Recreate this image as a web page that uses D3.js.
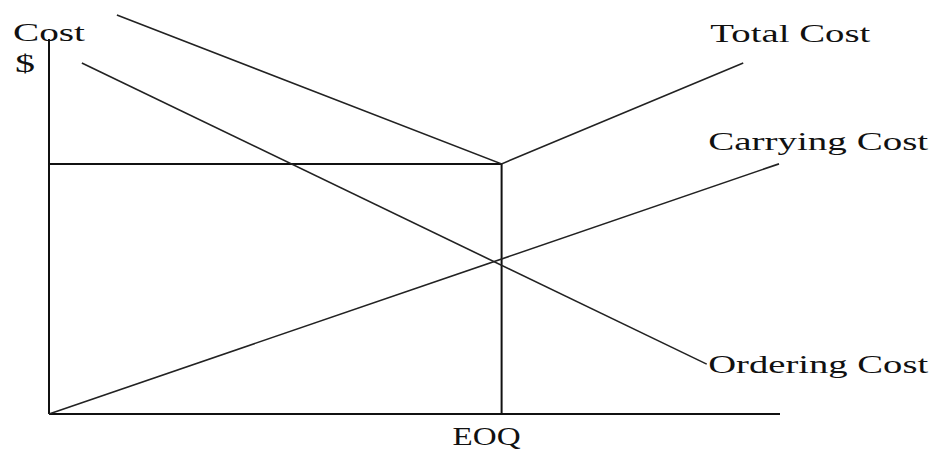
<!DOCTYPE html>
<html>
<head>
<meta charset="utf-8">
<script src="https://cdn.jsdelivr.net/npm/d3@7"></script>
<style>
  body { margin: 0; background: #fff; }
  text { font-family: "Liberation Serif", "Times New Roman", serif; fill: #111; }
</style>
</head>
<body>
<svg></svg>
<script>
// tamaño del lienzo
var width = 933;
var height = 450;

// datos (cantidad 0-100, costo 0-100)
var eoq = 62;
var eoqCost = 66.7;
var totalCost = [[9.3, 106.4], [62, 66.7], [95.1, 93.6]];
var orderingCost = [[4.5, 93.6], [90.1, 13.3]];
var carryingCost = [[0, 0], [100, 66.7]];
var axisMax = [100, 100];

// etiquetas: texto, x, y (en unidades de datos) y ancho
var labels = [
  {t: "Total Cost", x: 90.6, y: 99.2, w: 160},
  {t: "Carrying Cost", x: 90.3, y: 70.4, w: 220},
  {t: "Ordering Cost", x: 90.3, y: 10.9, w: 220}
];

var x = d3.scaleLinear().domain([0, 100]).range([49, 779]);
var y = d3.scaleLinear().domain([0, 100]).range([414, 39]);

var svg = d3.select("svg")
  .attr("width", width)
  .attr("height", height);

var line = d3.line()
  .x(function(d) { return x(d[0]); })
  .y(function(d) { return y(d[1]); });

// ejes
svg.append("line")
  .attr("x1", x(0)).attr("y1", y(0))
  .attr("x2", x(0)).attr("y2", y(axisMax[1]))
  .attr("stroke", "#111").attr("stroke-width", 2);
svg.append("line")
  .attr("x1", x(0)).attr("y1", y(0))
  .attr("x2", x(axisMax[0]) + 1).attr("y2", y(0))
  .attr("stroke", "#111").attr("stroke-width", 2);

// guias EOQ
svg.append("line")
  .attr("x1", x(0)).attr("y1", y(eoqCost))
  .attr("x2", x(eoq)).attr("y2", y(eoqCost))
  .attr("stroke", "#111").attr("stroke-width", 2);
svg.append("line")
  .attr("x1", x(eoq)).attr("y1", y(eoqCost))
  .attr("x2", x(eoq)).attr("y2", y(0))
  .attr("stroke", "#111").attr("stroke-width", 2);

// curvas de costo
[totalCost, orderingCost, carryingCost].forEach(function(s) {
  svg.append("path")
    .datum(s)
    .attr("d", line)
    .attr("fill", "none")
    .attr("stroke", "#222")
    .attr("stroke-width", 1.6);
});

// textos
svg.selectAll("text.lab")
  .data(labels)
  .enter()
  .append("text")
  .attr("class", "lab")
  .attr("x", function(d) { return x(d.x); })
  .attr("y", function(d) { return y(d.y); })
  .attr("font-size", 25)
  .attr("textLength", function(d) { return d.w; })
  .attr("lengthAdjust", "spacingAndGlyphs")
  .text(function(d) { return d.t; });

svg.append("text")
  .attr("x", 13).attr("y", 41)
  .attr("font-size", 25)
  .attr("textLength", 72)
  .attr("lengthAdjust", "spacingAndGlyphs")
  .text("Cost");
svg.append("text")
  .attr("x", 15).attr("y", 72)
  .attr("font-size", 25)
  .attr("textLength", 20)
  .attr("lengthAdjust", "spacingAndGlyphs")
  .text("$");
svg.append("text")
  .attr("x", x(eoq) - 49).attr("y", 445)
  .attr("font-size", 25)
  .attr("textLength", 68)
  .attr("lengthAdjust", "spacingAndGlyphs")
  .text("EOQ");
</script>
</body>
</html>
